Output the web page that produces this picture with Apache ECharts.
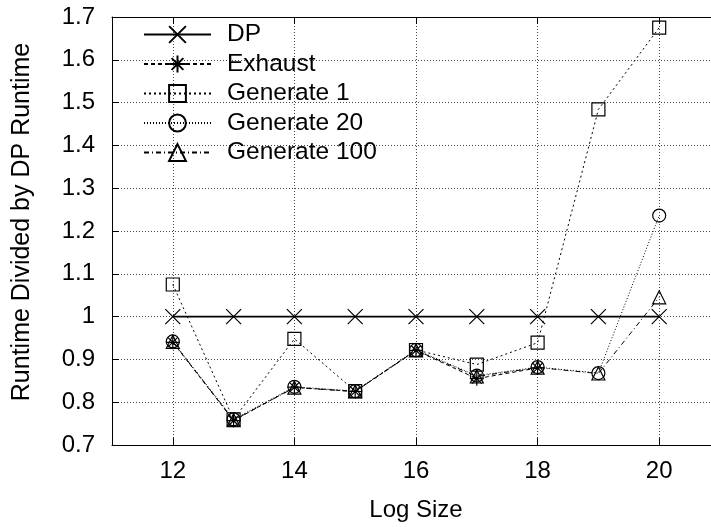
<!DOCTYPE html>
<html>
<head>
<meta charset="utf-8">
<script src="https://cdn.jsdelivr.net/npm/echarts@6/dist/echarts.min.js"></script>
<style>
html,body{margin:0;padding:0;overflow:hidden;background:#fff;width:711px;height:527px;}
#chart{width:730px;height:527px;}
</style>
</head>
<body>
<div id="chart"></div>
<script>
// ---- data ----
var logSizes = [12, 13, 14, 15, 16, 17, 18, 19, 20];
var xTicks = [12, 14, 16, 18, 20];
var dp = [1, 1, 1, 1, 1, 1, 1, 1, 1];
var exhaustSizes = [12, 13, 14, 15, 16, 17, 18];
var exhaust = [0.940, 0.757, 0.835, 0.825, 0.921, 0.855, 0.880];
var generate1 = [1.075, 0.760, 0.948, 0.826, 0.922, 0.888, 0.939, 1.484, 1.675];
var generate20 = [0.942, 0.760, 0.836, 0.826, 0.922, 0.862, 0.882, 0.868, 1.236];
var generate100 = [0.941, 0.758, 0.834, 0.825, 0.921, 0.860, 0.881, 0.867, 1.045];
var seriesNames = ['DP', 'Exhaust', 'Generate 1', 'Generate 20', 'Generate 100'];

function pairs(xs, ys) { return xs.map(function (x, i) { return [x, ys[i]]; }); }

var FONT = 'Liberation Sans';
var symX = 'path://M0,0L10,10M10,0L0,10';
var symStar = 'path://M5,0L5,10M0,5L10,5M1.5,1.5L8.5,8.5M8.5,1.5L1.5,8.5';

function mkSeries(name, data, symbol, size, lineType, lineWidth, z) {
  return {
    name: name, type: 'line', data: data,
    symbol: symbol, symbolSize: size, z: z,
    lineStyle: { color: '#000', width: lineWidth, type: lineType },
    itemStyle: { color: 'rgba(0,0,0,0)', borderColor: '#000', borderWidth: 1.2 },
    emphasis: { disabled: true },
    animation: false
  };
}

var chart = echarts.init(document.getElementById('chart'), null, { renderer: 'canvas' });
chart.setOption({
  animation: false,
  backgroundColor: '#fff',
  textStyle: { fontFamily: FONT, color: '#000' },
  grid: { left: 112, right: 10, top: 17, bottom: 80, containLabel: false },
  legend: {
    orient: 'vertical', left: 138, top: 17,
    itemWidth: 67, itemHeight: 21, itemGap: 4.5,
    data: seriesNames,
    textStyle: { fontFamily: FONT, fontSize: 24.5, color: '#000', lineHeight: 24, padding: [0, 0, 0, 11] },
    inactiveColor: '#000'
  },
  xAxis: [{
    type: 'value', min: 11, max: 21,
    name: 'Log Size', nameLocation: 'middle', nameGap: 53,
    nameTextStyle: { fontFamily: FONT, fontSize: 24, color: '#000' },
    axisLine: { show: true, onZero: false, lineStyle: { color: '#000', width: 1 } },
    axisTick: { show: true, inside: true, length: 7, customValues: xTicks, lineStyle: { color: '#000' } },
    axisLabel: { customValues: xTicks, fontFamily: FONT, fontSize: 24, color: '#000', margin: 14 },
    splitLine: { show: true, lineStyle: { color: '#444', type: [1, 2], width: 1 } }
  }, {
    type: 'value', min: 11, max: 21, position: 'top',
    axisLine: { show: true, onZero: false, lineStyle: { color: '#000', width: 1 } },
    axisTick: { show: true, inside: true, length: 7, customValues: xTicks, lineStyle: { color: '#000' } },
    axisLabel: { show: false },
    splitLine: { show: false }
  }],
  yAxis: [{
    type: 'value', min: 0.7, max: 1.7, interval: 0.1,
    name: 'Runtime Divided by DP Runtime', nameLocation: 'middle', nameGap: 77, nameRotate: 90,
    nameTextStyle: { fontFamily: FONT, fontSize: 25, color: '#000', padding: [0, 0, 0, 18] },
    axisLine: { show: true, onZero: false, lineStyle: { color: '#000', width: 1 } },
    axisTick: { show: true, inside: true, length: 7, lineStyle: { color: '#000' } },
    axisLabel: { fontFamily: FONT, fontSize: 24, color: '#000', margin: 17 },
    splitLine: { show: true, lineStyle: { color: '#444', type: [1, 2], width: 1 } }
  }],
  series: [
    mkSeries('DP', pairs(logSizes, dp), symX, 15, 'solid', 1.6, 5),
    mkSeries('Exhaust', pairs(exhaustSizes, exhaust), symStar, 14, [4, 3], 1, 4),
    mkSeries('Generate 1', pairs(logSizes, generate1), 'rect', 13, [2, 3], 1, 3),
    mkSeries('Generate 20', pairs(logSizes, generate20), 'circle', 13, [1, 2], 1, 2),
    mkSeries('Generate 100', pairs(logSizes, generate100), 'triangle', 13, [5, 3, 1, 3], 1, 1)
  ]
});
</script>
</body>
</html>
